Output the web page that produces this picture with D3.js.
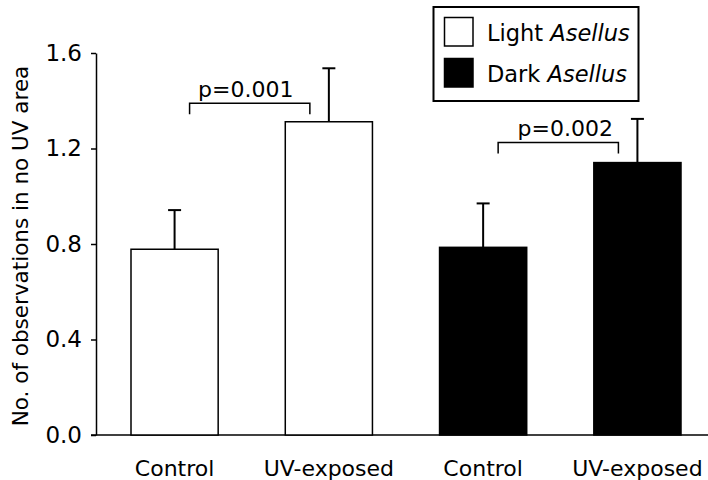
<!DOCTYPE html>
<html lang="en">
<head>
  <meta charset="UTF-8">
  <title>Asellus UV avoidance</title>
  <style>
    html, body { margin: 0; padding: 0; background: #fff; }
    svg { display: block; font-family: "DejaVu Sans", sans-serif; }
  </style>
</head>
<body>
  <svg id="chart" width="708" height="480"></svg>

  <script src="https://cdn.jsdelivr.net/npm/d3@7"></script>
  <script>
    // data
    const treatments = ["Control", "UV-exposed", "Control", "UV-exposed"];
    const morphs = ["Light", "Light", "Dark", "Dark"];
    const means = [0.778, 1.312, 0.786, 1.141];
    const errors = [0.164, 0.224, 0.184, 0.183];
    const yTicks = [0.0, 0.4, 0.8, 1.2, 1.6];
    const legendLabels = ["Light", "Dark"];
    const pPairs = [[0, 1], [2, 3]];
    const pLevels = [1.39, 1.225];
    const pLabels = ["p=0.001", "p=0.002"];

    const FILL = { Light: "#fff", Dark: "#000" };
    const FONT = 22;

    const svg = d3.select("#chart");

    const x = d3.scaleBand()
      .domain(d3.range(treatments.length))
      .range([131, 681])
      .paddingInner(0.435)
      .paddingOuter(0);

    const y = d3.scaleLinear()
      .domain([0, 1.6])
      .range([435, 53]);

    const cx = i => x(i) + x.bandwidth() / 2;

    // y axis
    const yAxis = d3.axisLeft(y)
      .tickValues(yTicks)
      .tickSize(5)
      .tickSizeOuter(0)
      .tickPadding(9)
      .tickFormat(d3.format(".1f"));

    svg.append("g")
      .attr("transform", `translate(96,0)`)
      .call(yAxis)
      .call(g => g.select(".domain").attr("stroke", "#000").attr("stroke-width", 1.5))
      .call(g => g.selectAll(".tick line").attr("stroke", "#000").attr("stroke-width", 1.5))
      .call(g => g.selectAll(".tick text")
        .attr("font-family", "DejaVu Sans")
        .attr("font-size", 23)
        .attr("fill", "#000"));

    // baseline
    svg.append("line")
      .attr("x1", 91).attr("x2", 708)
      .attr("y1", y(0)).attr("y2", y(0))
      .attr("stroke", "#000").attr("stroke-width", 1.5);

    // y title
    svg.append("text")
      .attr("transform", `translate(28,246) rotate(-90)`)
      .attr("text-anchor", "middle")
      .attr("font-size", 21.5)
      .text("No. of observations in no UV area");

    // x labels
    const xAxis = d3.axisBottom(x)
      .tickSize(0)
      .tickPadding(0)
      .tickFormat(i => treatments[i]);

    svg.append("g")
      .attr("transform", `translate(0,${y(0)})`)
      .call(xAxis)
      .call(g => g.select(".domain").remove())
      .call(g => g.selectAll(".tick text")
        .attr("font-family", "DejaVu Sans")
        .attr("font-size", FONT)
        .attr("fill", "#000")
        .attr("dy", null)
        .attr("y", 41));

    // error bars (upper only)
    const errG = svg.append("g").attr("stroke", "#000").attr("stroke-width", 2);
    means.forEach((m, i) => {
      errG.append("line")
        .attr("x1", cx(i)).attr("x2", cx(i))
        .attr("y1", y(m)).attr("y2", y(m + errors[i]));
      errG.append("line")
        .attr("x1", cx(i) - 6.5).attr("x2", cx(i) + 6.5)
        .attr("y1", y(m + errors[i])).attr("y2", y(m + errors[i]));
    });

    // bars
    svg.append("g")
      .selectAll("rect")
      .data(means)
      .join("rect")
        .attr("x", (d, i) => x(i))
        .attr("y", d => y(d))
        .attr("width", x.bandwidth())
        .attr("height", d => y(0) - y(d))
        .attr("fill", (d, i) => FILL[morphs[i]])
        .attr("stroke", "#000")
        .attr("stroke-width", 1.5);

    // significance brackets
    pPairs.forEach(([a, b], k) => {
      const x1 = cx(a) + 15, x2 = cx(b) - 19, yy = y(pLevels[k]);
      svg.append("path")
        .attr("d", `M${x1},${yy + 11}V${yy}H${x2}V${yy + 11}`)
        .attr("fill", "none")
        .attr("stroke", "#000")
        .attr("stroke-width", 1.5);
      svg.append("text")
        .attr("x", (x1 + x2) / 2 + (k === 0 ? -4 : 7))
        .attr("y", yy - 6.5)
        .attr("text-anchor", "middle")
        .attr("font-size", FONT)
        .text(pLabels[k]);
    });

    // legend
    const legend = svg.append("g");
    legend.append("rect")
      .attr("x", 433.5).attr("y", 7)
      .attr("width", 205).attr("height", 94)
      .attr("fill", "#fff")
      .attr("stroke", "#000")
      .attr("stroke-width", 2);

    legendLabels.forEach((lab, i) => {
      const top = 17.5 + i * 41;
      legend.append("rect")
        .attr("x", 444.5).attr("y", top)
        .attr("width", 28.5).attr("height", 28.5)
        .attr("fill", FILL[lab])
        .attr("stroke", "#000")
        .attr("stroke-width", 1.5);
      const t = legend.append("text")
        .attr("x", 487)
        .attr("y", top + 23.5)
        .attr("font-size", 22.5);
      t.append("tspan").text(lab + " ");
      t.append("tspan").attr("font-style", "italic").text("Asellus");
    });
  </script>
</body>
</html>
